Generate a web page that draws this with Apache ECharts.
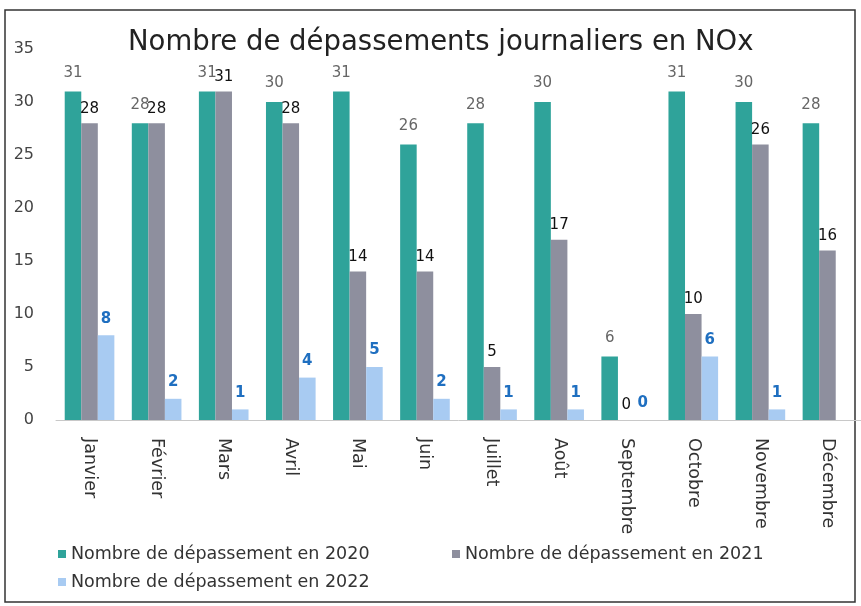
<!DOCTYPE html>
<html><head><meta charset="utf-8">
<script src="https://cdn.jsdelivr.net/npm/echarts@6/dist/echarts.min.js"></script>
<style>html,body{margin:0;padding:0;background:#fff}#c{width:861px;height:606px}</style>
</head><body><div id="c"></div>
<script>
var months = ['Janvier','Février','Mars','Avril','Mai','Juin','Juillet','Août','Septembre','Octobre','Novembre','Décembre'];
var seriesNames = ['Nombre de dépassement en 2020','Nombre de dépassement en 2021','Nombre de dépassement en 2022'];
var v2020 = [31,28,31,30,31,26,28,30,6,31,30,28];
var v2021 = [28,28,31,28,14,14,5,17,0,10,26,16];
var v2022 = [8,2,1,4,5,2,1,1,0,6,1,null];
var yTicks = [0,5,10,15,20,25,30,35];

var chart = echarts.init(document.getElementById('c'));
var legendBase = {orient:'horizontal', itemWidth:8, itemHeight:8, itemGap:4, icon:'rect',
  textStyle:{fontFamily:'DejaVu Sans', fontSize:17.5, color:'#333'}};
chart.setOption({
  animation:false,
  title:{text:'Nombre de dépassements journaliers en NOx', left:123, top:24,
    textStyle:{fontFamily:'DejaVu Sans', fontSize:27.5, fontWeight:'normal', color:'#222'}},
  graphic:[{type:'rect', shape:{x:5,y:10,width:850,height:592}, style:{fill:'none', stroke:'#333', lineWidth:1.5}, silent:true}],
  legend:[
    Object.assign({data:[seriesNames[0]], left:53, top:540}, legendBase),
    Object.assign({data:[seriesNames[1]], left:447, top:540}, legendBase),
    Object.assign({data:[seriesNames[2]], left:53, top:568}, legendBase)
  ],
  grid:{left:56, right:-7, top:49, bottom:186},
  xAxis:{type:'category', data:months,
    axisLine:{lineStyle:{color:'#c8c8c8'}}, axisTick:{show:false},
    axisLabel:{rotate:-90, fontFamily:'DejaVu Sans', fontSize:17.5, color:'#333', margin:18}},
  yAxis:{type:'value', min:0, max:35, interval:5,
    axisLine:{show:false}, axisTick:{show:false}, splitLine:{show:false},
    axisLabel:{fontFamily:'DejaVu Sans', fontSize:16, color:'#444', margin:22,
      formatter:function(v){return yTicks.indexOf(v)>=0? String(v):'';}}},
  series:[
    {name:seriesNames[0], type:'bar', data:v2020, barGap:'0%', barCategoryGap:'26%',
      itemStyle:{color:'#2fa39a'},
      label:{show:true, position:'top', distance:11, fontFamily:'DejaVu Sans', fontSize:15, color:'#666'}},
    {name:seriesNames[1], type:'bar', data:v2021,
      itemStyle:{color:'#8e8f9e'},
      label:{show:true, position:'top', distance:7, fontFamily:'DejaVu Sans', fontSize:15, color:'#111'}},
    {name:seriesNames[2], type:'bar', data:v2022,
      itemStyle:{color:'#a8cbf2'},
      label:{show:true, position:'top', distance:9, fontFamily:'DejaVu Sans', fontSize:15, fontWeight:'bold', color:'#1f6fc0'}}
  ]
});
</script></body></html>
